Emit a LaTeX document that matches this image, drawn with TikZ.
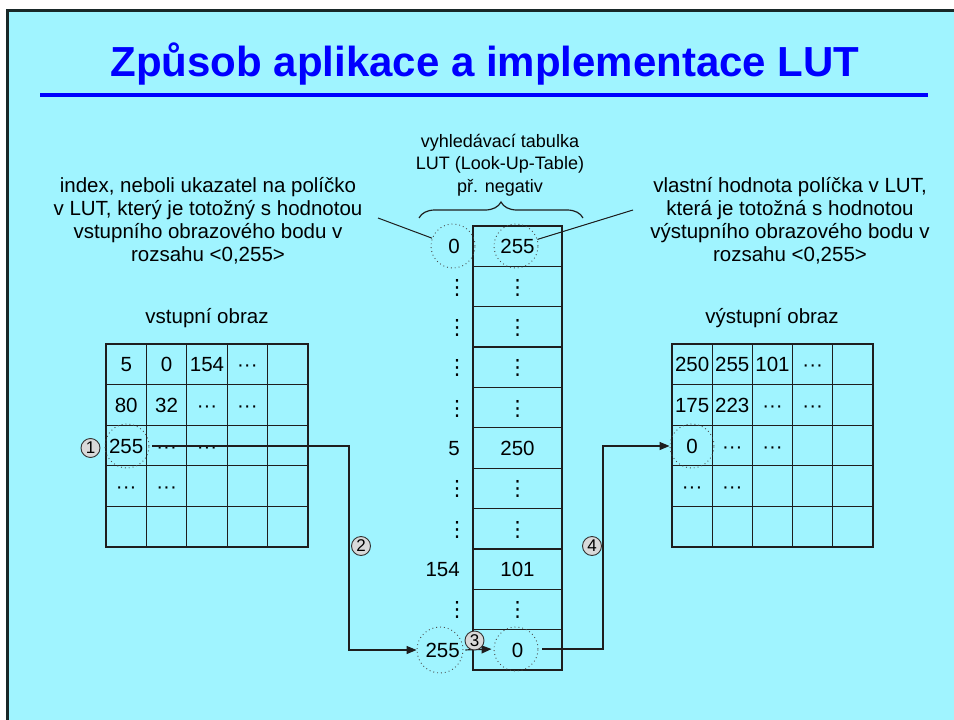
\documentclass[tikz,border=0pt]{standalone}
\usepackage{fontspec}
\setmainfont{Liberation Sans}
\newfontfamily\djv{DejaVu Sans}
\usetikzlibrary{arrows.meta,decorations.pathreplacing,calc}
\definecolor{bgc}{RGB}{160,244,255}
\definecolor{frm}{RGB}{25,40,40}
\definecolor{ttl}{RGB}{0,0,255}
\definecolor{ln}{RGB}{30,30,30}
\newcommand{\vdotsx}{{\djv\fontsize{21}{21}\selectfont ⋮}}
\newcommand{\hdotsx}{···}
\begin{document}
\begin{tikzpicture}[x=1pt,y=-1pt,
  txt/.style={font=\fontsize{20.5}{23}\selectfont, inner sep=0pt},
  num/.style={font=\fontsize{20.5}{23}\selectfont, inner sep=0pt, text height=15pt, text depth=0pt},
  gcell/.style={draw=ln, line width=1.3pt, minimum width=40.4pt, minimum height=40.6pt, inner sep=0pt},
  tcell/.style={draw=ln, line width=1.3pt, minimum width=89pt, minimum height=40.36pt, inner sep=0pt},
  dotc/.style={circle, draw=black!70, line width=0.9pt, dash pattern=on 0.9pt off 3pt, minimum size=44pt, inner sep=0pt},
  cnum/.style={circle, draw=black!80, fill=black!15, line width=0.9pt, minimum size=19pt, inner sep=0pt, font=\fontsize{17}{17}\selectfont},
  conn/.style={draw=ln, line width=1.2pt},
  arr/.style={-{Triangle[length=10pt,width=8pt]}}
]
\useasboundingbox (0,0) rectangle (954,720);
\fill[white] (0,0) rectangle (954,720);
\fill[bgc] (6,9) rectangle (954,720);
\draw[frm, line width=3pt] (7.5,720) -- (7.5,10.5) -- (954,10.5);

% title
\node[font=\fontsize{42}{50}\selectfont\bfseries, text=ttl, inner sep=0pt, anchor=base] (title) at (485,76) {Způsob aplikace a implementace LUT};
\draw[ttl, line width=4pt] (40,95) -- (928,95);

% texts
\node[txt, align=center, font=\fontsize{18}{22.5}\selectfont] (hd) at (500,165) {vyhledávací tabulka\\LUT (Look-Up-Table)\\př. negativ};
\node[txt, align=center] (annL) at (208,221) {index, neboli ukazatel na políčko\\v LUT, který je totožný s hodnotou\\vstupního obrazového bodu v\\rozsahu <0,255>};
\node[txt, align=center] (annR) at (790,221) {vlastní hodnota políčka v LUT,\\která je totožná s hodnotou\\výstupního obrazového bodu v\\rozsahu <0,255>};
\node[txt] (labL) at (207,318) {vstupní obraz};
\node[txt] (labR) at (772,318) {výstupní obraz};

% brace
\draw[ln, line width=1.2pt, decorate, decoration={brace, amplitude=16pt}] (419,218) -- (583,218);

% left grid
\foreach \r in {1,...,5} \foreach \c in {1,...,5}
  \node[gcell] (L-\r-\c) at ({106+40.4*(\c-0.5)}, {344+40.6*(\r-0.5)}) {};
\foreach \r/\c/\t in {1/1/5,1/2/0,1/3/154,1/4/\hdotsx,2/1/80,2/2/32,2/3/\hdotsx,2/4/\hdotsx,3/1/255,3/2/\hdotsx,3/3/\hdotsx,4/1/\hdotsx,4/2/\hdotsx}
  \node[num] (Lt-\r-\c) at (L-\r-\c) {\t};

% right grid
\foreach \r in {1,...,5} \foreach \c in {1,...,5}
  \node[gcell, minimum width=40.2pt] (R-\r-\c) at ({672+40.2*(\c-0.5)}, {344+40.6*(\r-0.5)}) {};
\foreach \r/\c/\t in {1/1/250,1/2/255,1/3/101,1/4/\hdotsx,2/1/175,2/2/223,2/3/\hdotsx,2/4/\hdotsx,3/1/0,3/2/\hdotsx,3/3/\hdotsx,4/1/\hdotsx,4/2/\hdotsx}
  \node[num] (Rt-\r-\c) at (R-\r-\c) {\t};

% LUT table
\foreach \r in {1,...,11}
  \node[tcell] (T-\r) at (517.5, {226+40.364*(\r-0.5)}) {};
\foreach \r/\t in {1/255,2/\vdotsx,3/\vdotsx,4/\vdotsx,5/\vdotsx,6/250,7/\vdotsx,8/\vdotsx,9/101,10/\vdotsx,11/0}
  \node[num] (Tv-\r) at (T-\r) {\t};
\foreach \r/\t in {1/0,6/5,9/154,11/255}
  \node[num, anchor=east] (I-\r) at (460, {226+40.364*(\r-0.5)}) {\t};
\foreach \r in {2,3,4,5,7,8,10}
  \node[num] (Id-\r) at (457, {226+40.364*(\r-0.5)}) {\vdotsx};

% dotted circles
\node[dotc] (ci0) at (453,246) {};
\node[dotc] (cv255) at (516,246) {};
\node[dotc] (cL) at (127,446) {};
\node[dotc] (cR) at (692,446) {};
\node[dotc, minimum size=46pt] (ci255) at (440,650) {};
\node[dotc] (cv0) at (516,649) {};

% leader lines
\coordinate (lA) at (378,218);
\coordinate (lB) at (633,210);
\draw[conn, line width=1pt] (lA) -- (ci0);
\draw[conn, line width=1pt] (cv255) -- (lB);

% connectors
\coordinate (kA) at (349,445);
\coordinate (kC) at (603,649);
\draw[conn, arr, shorten <=3pt] (cL.east) -- (cL.east -| kA) |- (ci255.west);
\draw[conn, arr, shorten <=2pt, shorten >=2pt] (ci255.east) -- (cv0.west);
\draw[conn, arr, shorten <=4pt] (cv0.east) -- (kC) |- (cR.west);

% circled numbers
\node[cnum] (n1) at (90.5,448) {1};
\node[cnum] (n2) at (361,546) {2};
\node[cnum] (n3) at (474.5,640.5) {3};
\node[cnum] (n4) at (592,546) {4};
\end{tikzpicture}
\end{document}
